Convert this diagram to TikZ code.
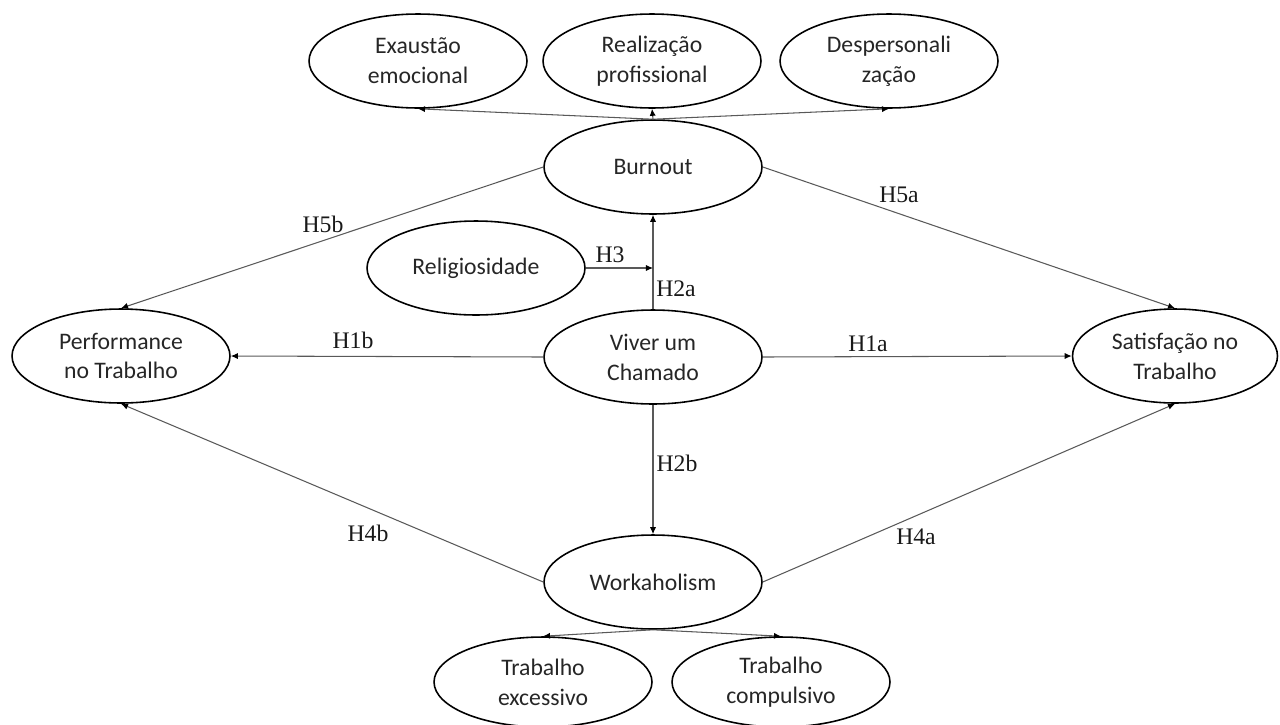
\documentclass[tikz,border=0pt]{standalone}
\usepackage{fontspec}
\setmainfont{Carlito}
\newfontfamily\hfont{Liberation Serif}
\usetikzlibrary{shapes.geometric,arrows.meta}

\begin{document}
\begin{tikzpicture}[x=0.02cm,y=-0.02cm,
        construct/.style={ellipse, draw, line width=0.9pt, minimum width=4.36cm,
            minimum height=1.88cm, inner sep=0pt, align=center,
            font=\fontsize{13.5}{17}\selectfont, text=black!85},
        link/.style={draw=black!65, line width=0.6pt, -{Latex[length=4pt,width=3.5pt,black]}},
        hyp/.style={font=\hfont\fontsize{13.5}{16}\selectfont, inner sep=0pt, text=black!90}]
    \useasboundingbox (0,0) rectangle (1280,724);
    % dimensoes do burnout
    \node [construct] (exaustao) at (418, 61) {Exaustão\\emocional};
    \node [construct] (realizacao) at (652, 61) {Realização\\profissional};
    \node [construct] (despers) at (889, 61) {Despersonali\\zação};
    \node [construct] (burnout) at (653, 167) {Burnout};
    \node [construct] (religio) at (476, 268) {Religiosidade};
    \node [construct] (viver) at (653, 357) {Viver um\\Chamado};
    \node [construct] (perform) at (121, 356) {Performance\\no Trabalho};
    \node [construct, minimum width=4.1cm] (satisf) at (1175, 356) {Satisfação no\\Trabalho};
    \node [construct] (workah) at (653, 582) {Workaholism};
    % dimensoes do workaholism
    \node [construct, minimum height=1.8cm] (excess) at (543, 682) {Trabalho\\excessivo};
    \node [construct, minimum height=1.8cm] (compul) at (781, 682) {Trabalho\\compulsivo};
    \coordinate (moder) at (viver.north |- religio.east);

    \draw [link] (burnout.north) -- (exaustao.south);
    \draw [link] (burnout.north) -- (realizacao.south);
    \draw [link] (burnout.north) -- (despers.south);
    \draw [link] (workah.south) -- (excess.north);
    \draw [link] (workah.south) -- (compul.north);

    \draw [link] (viver.north) -- (burnout.south);
    \draw [link] (religio.east) -- (moder);
    \draw [link] (viver.south) -- (workah.north);
    \draw [link] (viver.west) -- (perform.east);
    \draw [link] (viver.east) -- (satisf.west);
    \draw [link] (burnout.west) -- (perform.north);
    \draw [link] (burnout.east) -- (satisf.north);
    \draw [link] (workah.west) -- (perform.south);
    \draw [link] (workah.east) -- (satisf.south);

    \node [hyp] (h5b) at (323, 224) {H5b};
    \node [hyp] (h5a) at (899, 195) {H5a};
    \node [hyp] (h3) at (610, 255) {H3};
    \node [hyp] (h2a) at (676, 289) {H2a};
    \node [hyp] (h1b) at (353, 340) {H1b};
    \node [hyp] (h1a) at (868, 344) {H1a};
    \node [hyp] (h2b) at (677, 463) {H2b};
    \node [hyp] (h4b) at (368, 533) {H4b};
    \node [hyp] (h4a) at (916, 537) {H4a};
\end{tikzpicture}
\end{document}
